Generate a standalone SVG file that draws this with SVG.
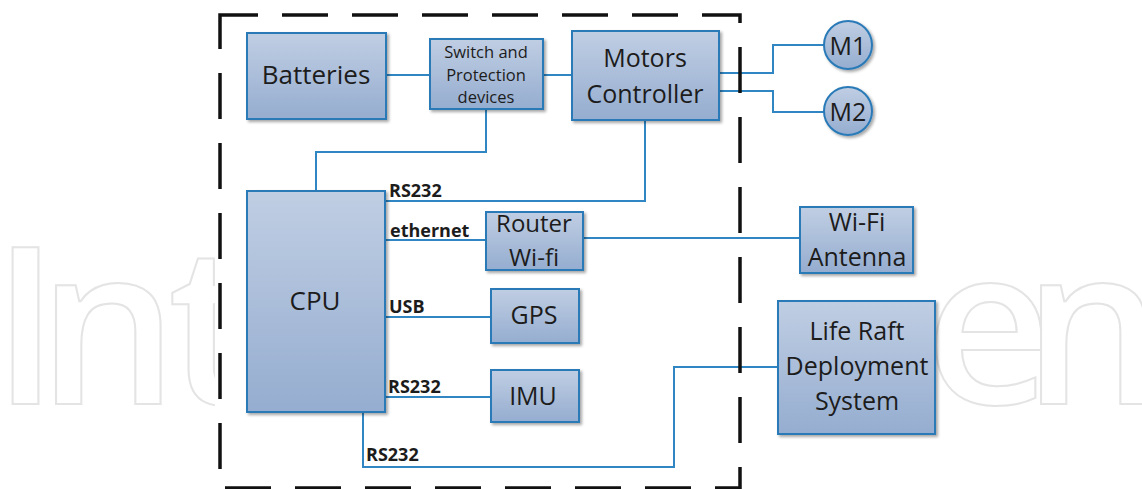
<svg xmlns="http://www.w3.org/2000/svg" width="1142" height="489" viewBox="0 0 1142 489">
  <style>
    .box { fill: url(#boxGrad); stroke: #2a7ab8; stroke-width: 2; filter: url(#shadow); }
    .lbl { font-family: "Open Sans", "Liberation Sans", sans-serif; fill: #1c1c1c; text-anchor: middle; }
    .conn { fill: none; stroke: #2f86c3; stroke-width: 2; }
    .cl { font-family: "Open Sans", "Liberation Sans", sans-serif; font-weight: 700; font-size: 18px; fill: #1c1c1c; }
    .wm { font-family: "Open Sans", "Liberation Sans", sans-serif; font-weight: 600; font-size: 220px; fill: #ffffff; stroke: #e4e4e4; stroke-width: 2; }
  </style>
  <defs>
    <linearGradient id="boxGrad" x1="0" y1="0" x2="0" y2="1">
      <stop offset="0" stop-color="#c0cee3"/>
      <stop offset="1" stop-color="#95add0"/>
    </linearGradient>
    <filter id="shadow" x="-10%" y="-10%" width="125%" height="125%">
      <feDropShadow dx="2" dy="2" stdDeviation="1.5" flood-color="#000000" flood-opacity="0.35"/>
    </filter>
    <clipPath id="wmLeft"><rect x="0" y="0" width="215" height="489"/></clipPath>
    <clipPath id="wmRight"><rect x="936" y="0" width="206" height="489"/></clipPath>
  </defs>

  <rect x="0" y="0" width="1142" height="489" fill="#ffffff"/>

  <!-- watermark (visible parts only) -->
  <g id="watermark">
    <text class="wm" x="-8 38 168" y="404" clip-path="url(#wmLeft)">Int</text>
    <text class="wm" x="925 1023" y="404" clip-path="url(#wmRight)">en</text>
  </g>

  <!-- connectors -->
  <g id="connectors">
    <path class="conn" d="M386 75 H430"/>
    <path class="conn" d="M543 75 H572"/>
    <path class="conn" d="M486 109 V152 H316 V191"/>
    <path class="conn" d="M385 201 H645 V120"/>
    <path class="conn" d="M385 240 H486"/>
    <path class="conn" d="M583 238 H800"/>
    <path class="conn" d="M385 317 H491"/>
    <path class="conn" d="M385 397 H491"/>
    <path class="conn" d="M363 412 V467 H674 V367 H778"/>
    <path class="conn" d="M719 73 H773 V45 H824"/>
    <path class="conn" d="M719 91 H773 V112 H824"/>
    <text class="cl" x="389" y="197">RS232</text>
    <text class="cl" x="390" y="237">ethernet</text>
    <text class="cl" x="389" y="313">USB</text>
    <text class="cl" x="388" y="393">RS232</text>
    <text class="cl" x="366" y="461">RS232</text>
  </g>

  <!-- dashed boundary -->
  <path d="M220 15 H740 V488 H220 Z" fill="none" stroke="#111111" stroke-width="3.5" stroke-dasharray="46 24" stroke-dashoffset="8"/>

  <g id="batteries">
    <rect class="box" x="247" y="33" width="139" height="86"/>
    <text class="lbl" x="316" y="84" font-size="26">Batteries</text>
  </g>
  <g id="switch">
    <rect class="box" x="430" y="39" width="113" height="70"/>
    <text class="lbl" x="486" y="58" font-size="16.5">Switch and</text>
    <text class="lbl" x="486" y="81" font-size="16.5">Protection</text>
    <text class="lbl" x="486" y="103" font-size="16.5">devices</text>
  </g>
  <g id="motors">
    <rect class="box" x="572" y="31" width="147" height="89"/>
    <text class="lbl" x="645" y="67" font-size="25">Motors</text>
    <text class="lbl" x="645" y="103" font-size="25">Controller</text>
  </g>
  <g id="m1">
    <circle class="box" cx="848" cy="45" r="24"/>
    <text class="lbl" x="848" y="55" font-size="25">M1</text>
  </g>
  <g id="m2">
    <circle class="box" cx="848" cy="111" r="24"/>
    <text class="lbl" x="848" y="121" font-size="25">M2</text>
  </g>
  <g id="cpu">
    <rect class="box" x="247" y="191" width="138" height="221"/>
    <text class="lbl" x="315" y="310" font-size="26">CPU</text>
  </g>
  <g id="router">
    <rect class="box" x="486" y="212" width="97" height="58"/>
    <text class="lbl" x="534" y="232" font-size="24">Router</text>
    <text class="lbl" x="534" y="266" font-size="24">Wi-fi</text>
  </g>
  <g id="gps">
    <rect class="box" x="491" y="289" width="88" height="54"/>
    <text class="lbl" x="534" y="324" font-size="25">GPS</text>
  </g>
  <g id="imu">
    <rect class="box" x="491" y="370" width="88" height="52"/>
    <text class="lbl" x="533" y="405" font-size="25">IMU</text>
  </g>
  <g id="antenna">
    <rect class="box" x="800" y="207" width="113" height="66"/>
    <text class="lbl" x="857" y="231" font-size="25">Wi-Fi</text>
    <text class="lbl" x="857" y="266" font-size="25">Antenna</text>
  </g>
  <g id="liferaft">
    <rect class="box" x="778" y="301" width="157" height="133"/>
    <text class="lbl" x="857" y="340" font-size="25">Life Raft</text>
    <text class="lbl" x="857" y="375" font-size="25">Deployment</text>
    <text class="lbl" x="857" y="410" font-size="25">System</text>
  </g>
</svg>
